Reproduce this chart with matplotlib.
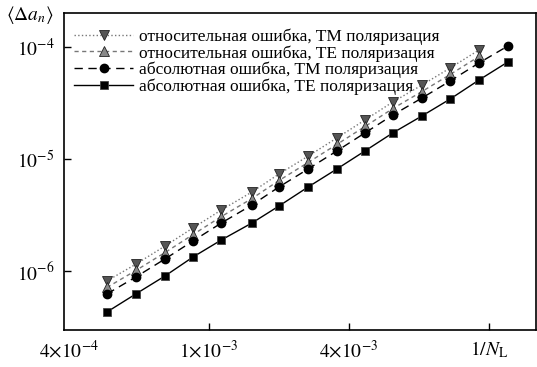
import numpy as np
import matplotlib
matplotlib.use('Agg')
import matplotlib.pyplot as plt

plt.rcParams['font.family'] = ['Liberation Serif', 'DejaVu Serif']
plt.rcParams['mathtext.fontset'] = 'stix'

################################ data
# 1/N_L values
x_all = [3.64e-4, 4.85e-4, 6.47e-4, 8.53e-4, 1.13e-3, 1.53e-3, 2.00e-3, 2.67e-3,
         3.55e-3, 4.69e-3, 6.18e-3, 8.24e-3, 1.09e-2, 1.45e-2, 1.93e-2]
x_rel = x_all[:14]

rel_tm = [8.14e-7, 1.15e-6, 1.67e-6, 2.42e-6, 3.50e-6, 5.07e-6, 7.34e-6, 1.06e-5,
          1.54e-5, 2.23e-5, 3.23e-5, 4.57e-5, 6.49e-5, 9.40e-5]
rel_te = [7.12e-7, 1.01e-6, 1.46e-6, 2.11e-6, 3.06e-6, 4.43e-6, 6.42e-6, 9.30e-6,
          1.35e-5, 1.95e-5, 2.82e-5, 4.00e-5, 5.68e-5, 8.23e-5]
abs_tm = [6.23e-7, 8.84e-7, 1.28e-6, 1.85e-6, 2.68e-6, 3.88e-6, 5.62e-6, 8.14e-6,
          1.18e-5, 1.71e-5, 2.47e-5, 3.50e-5, 4.97e-5, 7.20e-5, 1.02e-4]
abs_te = [4.30e-7, 6.24e-7, 9.02e-7, 1.33e-6, 1.89e-6, 2.68e-6, 3.80e-6, 5.62e-6,
          8.14e-6, 1.18e-5, 1.71e-5, 2.42e-5, 3.43e-5, 5.07e-5, 7.35e-5]

labels = ['относительная ошибка, TM поляризация',
          'относительная ошибка, TE поляризация',
          'абсолютная ошибка, TM поляризация',
          'абсолютная ошибка, TE поляризация']

xticks = [2.5e-4, 1e-3, 4e-3, 1.6e-2]
xticklabels = [r'$4{\times}10^{-4}$', r'$1{\times}10^{-3}$', r'$4{\times}10^{-3}$', r'$1/N_{\rm L}$']
yticks = [1e-6, 1e-5, 1e-4]

################################ plot
fig = plt.figure(figsize=(5.37, 3.67), dpi=100)
ax = fig.add_axes([0.1192, 0.1008, 0.879, 0.8638])

ax.plot(x_rel, rel_tm, ':', color='#777777', lw=1.0, marker='v', ms=6.5,
        mfc='#555555', mec='#222222', mew=0.6, label=labels[0])
ax.plot(x_rel, rel_te, color='#777777', lw=1.0, dashes=(3, 2.5), marker='^', ms=6.5,
        mfc='#888888', mec='#222222', mew=0.6, label=labels[1])
ax.plot(x_all, abs_tm, color='black', lw=1.0, dashes=(6, 4), marker='o', ms=6,
        mfc='black', mec='black', label=labels[2])
ax.plot(x_all, abs_te, '-', color='black', lw=1.0, marker='s', ms=5.5,
        mfc='black', mec='#444444', mew=0.6, label=labels[3])

ax.set_xscale('log')
ax.set_yscale('log')
ax.set_xlim(2.38e-4, 2.55e-2)
ax.set_ylim(2.97e-7, 2.01e-4)

ax.set_xticks(xticks)
ax.set_xticklabels(xticklabels)
ax.set_yticks(yticks)
ax.set_yticklabels([r'$10^{-6}$', r'$10^{-5}$', r'$10^{-4}$'])
ax.minorticks_off()
ax.tick_params(direction='in', length=5, width=1.0, labelsize=14, pad=7)
ax.xaxis.get_major_ticks()[0].tick1line.set_visible(False)
for s in ax.spines.values():
  s.set_linewidth(1.2)

ax.legend(loc='upper left', bbox_to_anchor=(0.0, 0.985), frameon=False, fontsize=12.5,
          handlelength=3.4, handletextpad=0.3, labelspacing=0.02, borderaxespad=0.2)

fig.text(0.055, 0.958, r'$\langle \Delta a_n \rangle$', fontsize=14, ha='center', va='center')

fig.savefig('out.png', dpi=100)
